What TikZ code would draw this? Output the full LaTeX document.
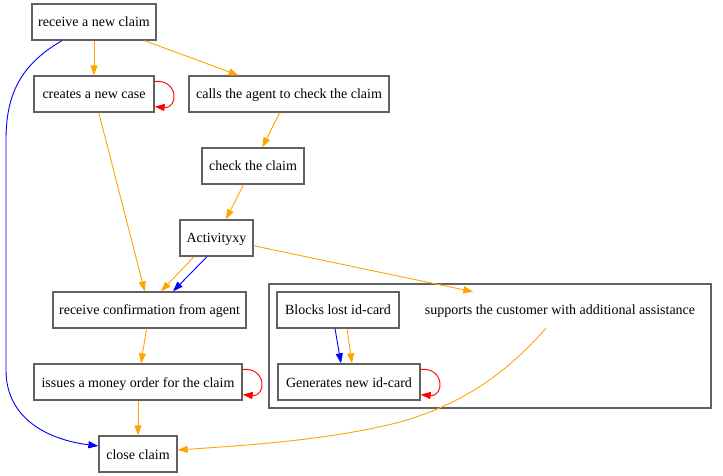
\documentclass[tikz,border=0pt]{standalone}
\usepackage{fontspec}
\setmainfont{Liberation Serif}
\usetikzlibrary{arrows.meta}
\definecolor{eorange}{HTML}{FFA500}
\definecolor{eblue}{HTML}{0000FF}
\definecolor{ered}{HTML}{FF0000}
\begin{document}
\begin{tikzpicture}[x=1bp,y=-1bp,
  font=\fontsize{14bp}{16bp}\selectfont,
  box/.style={draw=black!62,line width=1.3bp,minimum height=36bp,inner sep=0pt,anchor=center,text height=10bp,text depth=0bp},
  plain/.style={minimum height=36bp,inner sep=0pt,anchor=center,text height=10bp,text depth=0bp},
  clusterbox/.style={draw=black!62,line width=1.3bp,inner sep=0pt,anchor=center},
  edge/.style={line width=0.9bp,-{Triangle[length=10bp,width=7bp]}},
  oe/.style={edge,eorange},
  be/.style={edge,eblue},
  re/.style={edge,ered}]
\useasboundingbox (0,0) rectangle (723,476);
% cluster
\node[clusterbox,minimum width=442bp,minimum height=124bp] (clu) at (490,346) {};
% nodes
\node[box,minimum width=124bp] (rnc) at (94,22) {receive a new claim};
\node[box,minimum width=120bp] (cnc) at (94,94) {creates a new case};
\node[box,minimum width=200bp] (cag) at (289,94) {calls the agent to check the claim};
\node[box,minimum width=102bp] (chk) at (253,166) {check the claim};
\node[box,minimum width=73bp] (act) at (216.5,238) {Activityxy};
\node[box,minimum width=193bp] (rcf) at (149.5,310) {receive confirmation from agent};
\node[box,minimum width=208bp] (imo) at (138,382) {issues a money order for the claim};
\node[box,minimum width=78bp] (clo) at (138,454) {close claim};
\node[box,minimum width=122bp] (blk) at (338,310) {Blocks lost id-card};
\node[box,minimum width=142bp] (gen) at (349,382) {Generates new id-card};
\node[plain,minimum width=276bp] (sup) at (560,310) {supports the customer with additional assistance};
% edges
\draw[oe] (rnc) -- (cnc);
\draw[oe] (rnc) -- (cag);
\draw[re] ([yshift=-6bp]cnc.north east) .. controls +(24,-2) and +(24,2) .. ([yshift=6bp]cnc.south east);
\draw[oe] (cnc) -- (rcf);
\draw[oe] (cag) -- (chk);
\draw[oe] (chk) -- (act);
\draw[oe] ([xshift=-22.5bp]act.south) -- ([xshift=11.5bp]rcf.north);
\draw[be] ([xshift=-9.5bp]act.south) -- ([xshift=23.5bp]rcf.north);
\draw[oe] (act) -- (sup);
\draw[oe] (rcf) -- (imo);
\draw[re] ([yshift=-6bp]imo.north east) .. controls +(24,-2) and +(24,2) .. ([yshift=6bp]imo.south east);
\draw[oe] (imo) -- (clo);
\draw[be] ([xshift=-32bp]rnc.south) .. controls (20,65) and (6,95) .. (6,140) -- (6,370) .. controls (6,420) and (50,440) .. ([yshift=8bp]clo.west);
\draw[be] ([xshift=-3bp]blk.south) -- ([xshift=-8bp]gen.north);
\draw[oe] ([xshift=9bp]blk.south) -- ([xshift=3bp]gen.north);
\draw[re] ([yshift=-6bp]gen.north east) .. controls +(24,-2) and +(24,2) .. ([yshift=6bp]gen.south east);
\draw[oe] ([xshift=-14bp]sup.south) .. controls (505,375) and (460,405) .. (400,422) .. controls (330,440) and (250,445) .. ([yshift=4bp]clo.east);
\end{tikzpicture}
\end{document}
